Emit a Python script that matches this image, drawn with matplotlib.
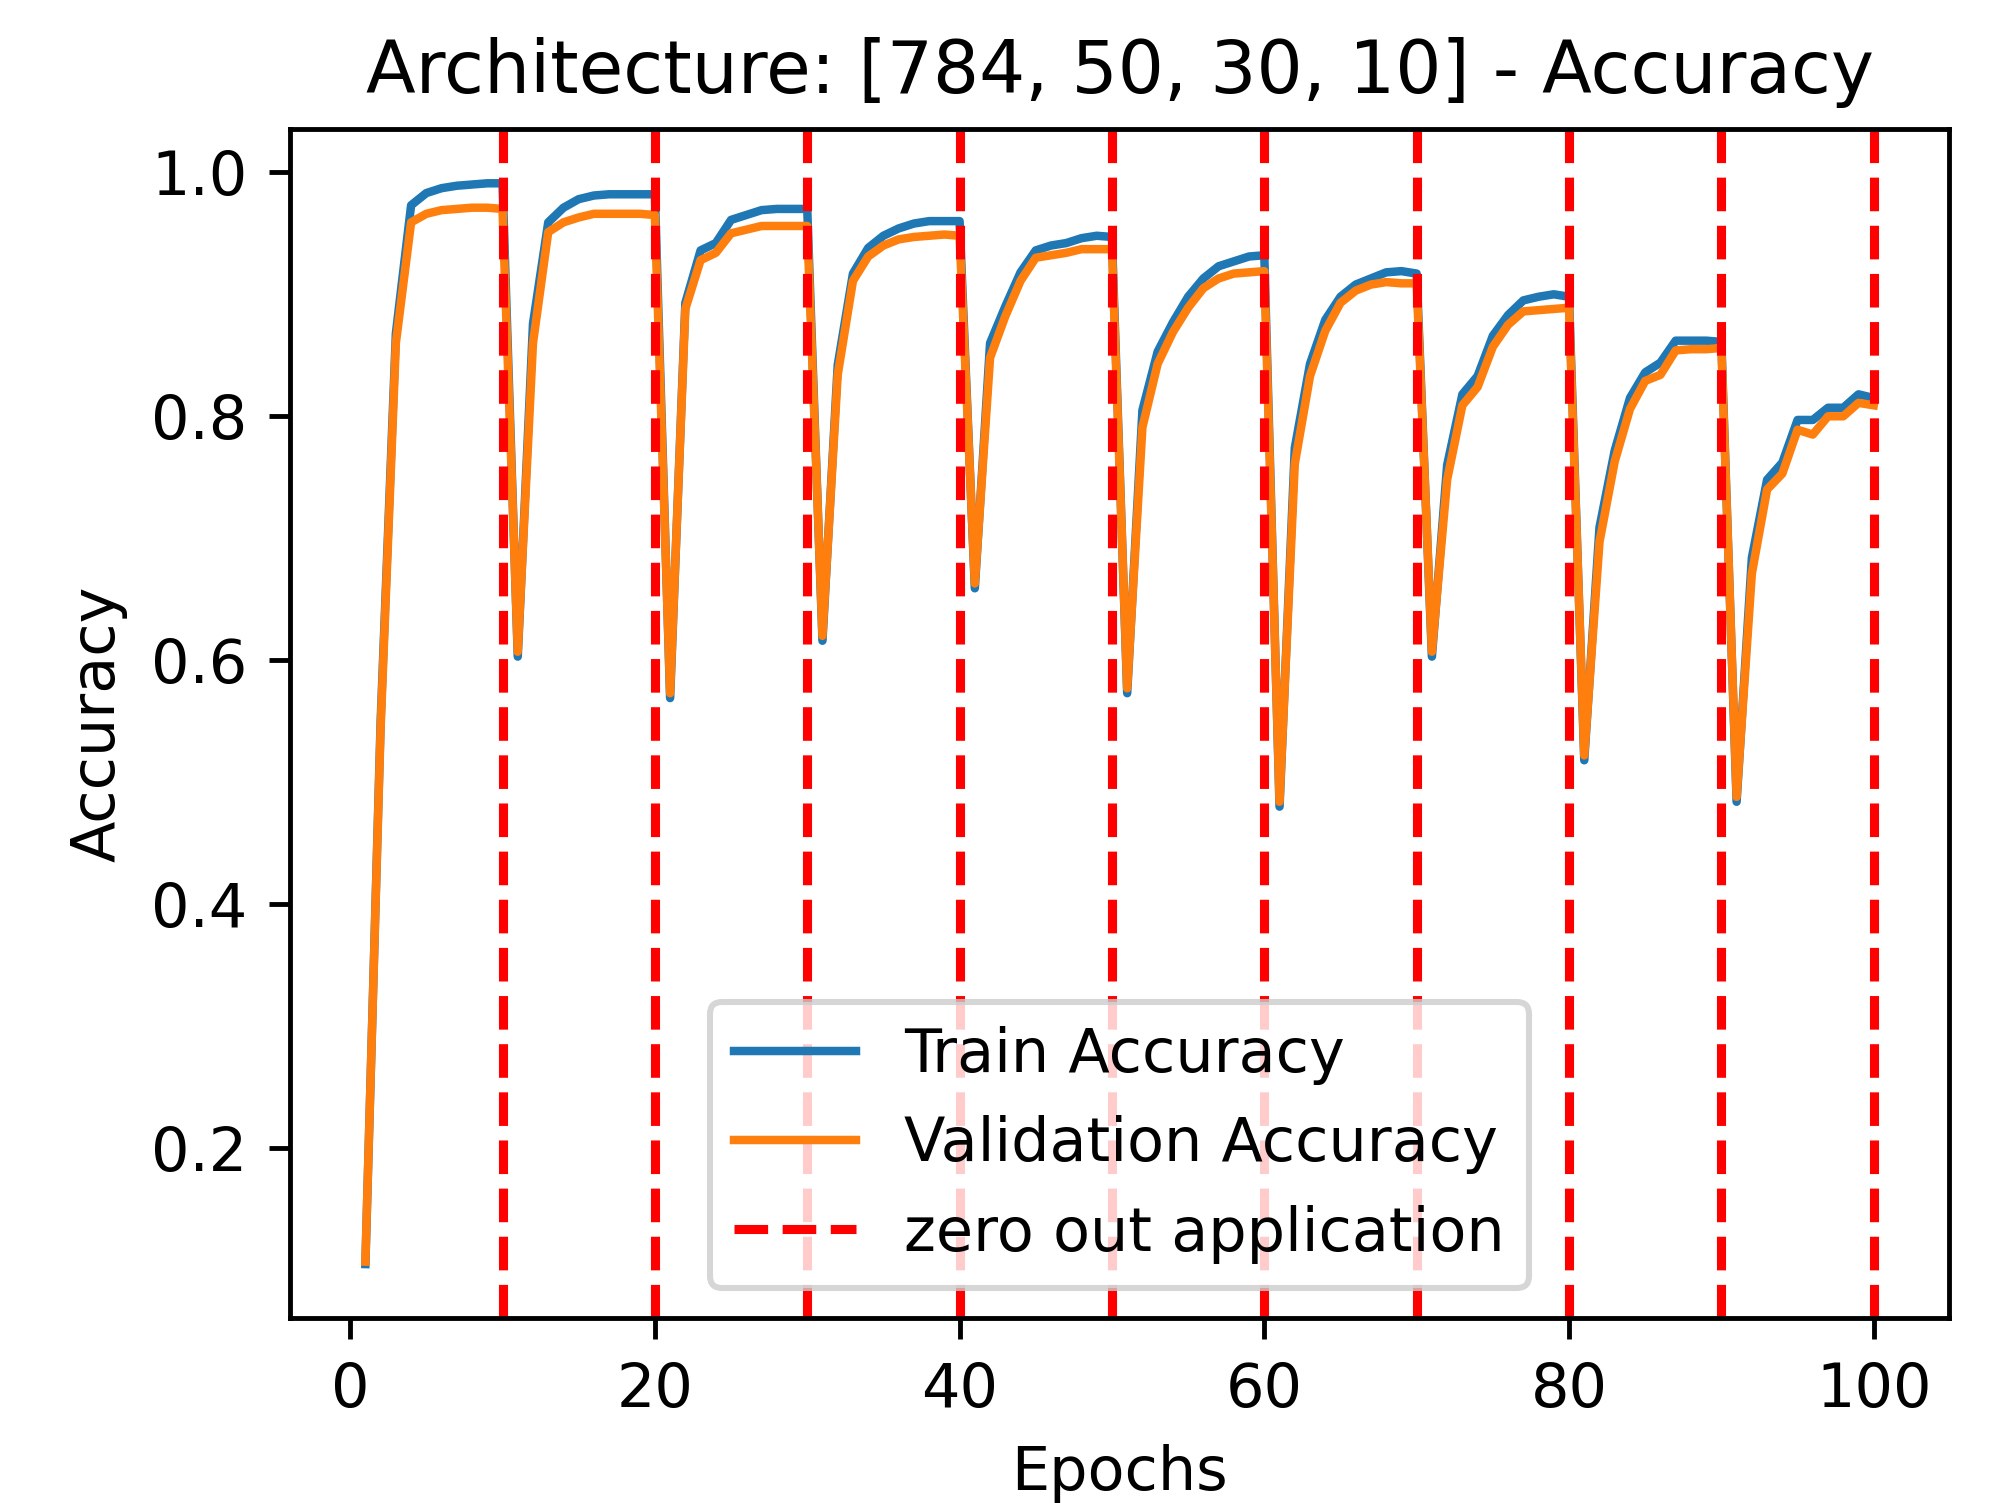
import matplotlib.pyplot as plt
import numpy as np

epochs = np.arange(1, 101)

train_acc = [
    0.105, 0.550, 0.868, 0.973, 0.983, 0.987, 0.989, 0.990, 0.991, 0.991,
    0.603, 0.876, 0.959, 0.971, 0.978, 0.981, 0.982, 0.982, 0.982, 0.982,
    0.569, 0.893, 0.936, 0.942, 0.961, 0.965, 0.969, 0.970, 0.970, 0.970,
    0.616, 0.842, 0.917, 0.938, 0.948, 0.954, 0.958, 0.960, 0.960, 0.960,
    0.659, 0.860, 0.890, 0.918, 0.936, 0.940, 0.942, 0.946, 0.948, 0.947,
    0.573, 0.805, 0.853, 0.877, 0.898, 0.913, 0.923, 0.927, 0.931, 0.932,
    0.480, 0.774, 0.843, 0.879, 0.898, 0.908, 0.913, 0.918, 0.919, 0.917,
    0.603, 0.760, 0.818, 0.833, 0.866, 0.883, 0.895, 0.898, 0.900, 0.898,
    0.518, 0.709, 0.772, 0.815, 0.836, 0.844, 0.862, 0.862, 0.862, 0.861,
    0.484, 0.684, 0.748, 0.762, 0.797, 0.797, 0.807, 0.807, 0.818, 0.815,
]

val_acc = [
    0.107, 0.545, 0.860, 0.959, 0.966, 0.969, 0.970, 0.971, 0.971, 0.970,
    0.607, 0.860, 0.951, 0.959, 0.963, 0.966, 0.966, 0.966, 0.966, 0.965,
    0.573, 0.888, 0.928, 0.934, 0.950, 0.953, 0.956, 0.956, 0.956, 0.956,
    0.620, 0.834, 0.911, 0.931, 0.940, 0.945, 0.947, 0.948, 0.949, 0.948,
    0.663, 0.848, 0.882, 0.911, 0.930, 0.932, 0.934, 0.937, 0.937, 0.937,
    0.577, 0.791, 0.843, 0.869, 0.889, 0.905, 0.913, 0.917, 0.918, 0.919,
    0.484, 0.761, 0.833, 0.870, 0.893, 0.903, 0.908, 0.910, 0.909, 0.909,
    0.607, 0.748, 0.809, 0.824, 0.857, 0.875, 0.886, 0.887, 0.888, 0.889,
    0.522, 0.697, 0.763, 0.806, 0.829, 0.834, 0.854, 0.855, 0.855, 0.856,
    0.488, 0.671, 0.740, 0.753, 0.789, 0.785, 0.800, 0.800, 0.811, 0.809,
]

zero_out_epochs = [10, 20, 30, 40, 50, 60, 70, 80, 90, 100]

dpi = 436
fig = plt.figure(figsize=(1993 / dpi, 1503 / dpi), dpi=dpi)
plt.subplots_adjust(left=0.1455, right=0.978, bottom=0.123, top=0.914)

plt.plot(epochs, train_acc, label="Train Accuracy", linewidth=1.4)
plt.plot(epochs, val_acc, label="Validation Accuracy", linewidth=1.4)

for i, e in enumerate(zero_out_epochs):
    plt.axvline(e, color='r', linestyle='--', linewidth=1.5,
                label="zero out application" if i == 0 else None)

plt.xlabel("Epochs")
plt.ylabel("Accuracy")
plt.title("Architecture: [784, 50, 30, 10] - Accuracy")
plt.legend(loc="lower center")

plt.savefig("out.png", dpi=dpi)
